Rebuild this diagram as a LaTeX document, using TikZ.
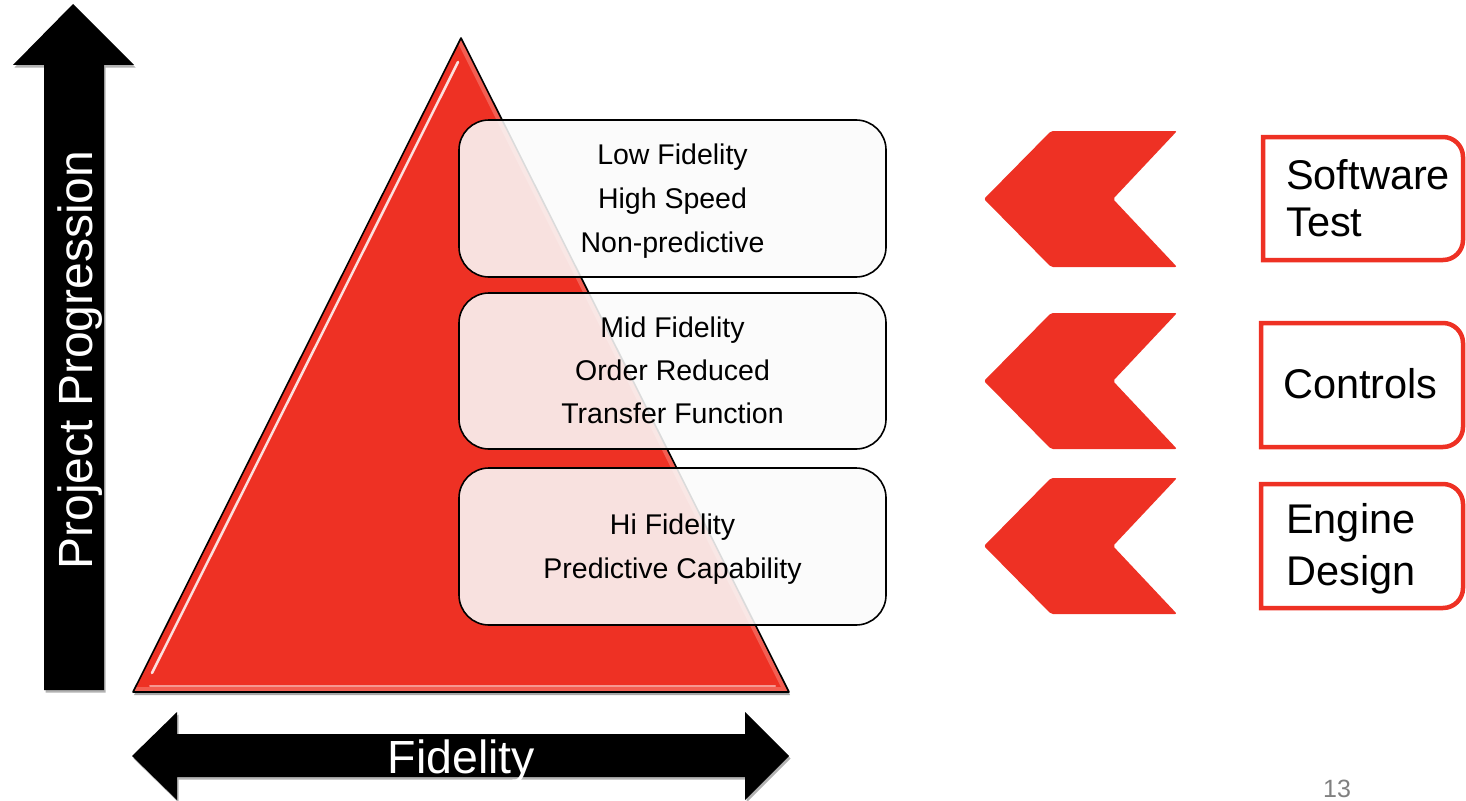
\documentclass[tikz,border=0pt]{standalone}
\usepackage{fontspec}
\setmainfont{Liberation Sans}
\usetikzlibrary{shadows}
\definecolor{brand}{RGB}{238,49,36}
\definecolor{brandlight}{RGB}{250,150,140}
\definecolor{pagenum}{RGB}{128,128,128}
\begin{document}
\begin{tikzpicture}[x=1pt,y=-1pt,
  bigarrow/.style={fill=black,
    drop shadow={shadow xshift=1.5pt,shadow yshift=-2.5pt,opacity=.3,fill=black}},
  arrowlabel/.style={text=white,inner sep=0pt},
  levelbox/.style={draw=black,line width=1.6pt,rounded corners=30pt,
    fill=black!2,fill opacity=.88},
  leveltext/.style={inner sep=0pt,anchor=base,font=\fontsize{28.5}{34}\selectfont},
  chevron/.style={fill=brand,rounded corners=2pt},
  rolebox/.style={draw=brand,fill=white,line width=4.5pt,line join=miter},
  roletext/.style={inner sep=0pt,anchor=base west,font=\fontsize{41.5}{48}\selectfont}]
\useasboundingbox (0,0) rectangle (1466,800);

% vertical axis arrow
\fill[bigarrow] (44,690) -- (44,65) -- (13,65) -- (73,4) -- (134,65)
  -- (104,65) -- (104,690) -- cycle;
\node[arrowlabel,rotate=90,anchor=base,font=\fontsize{48}{50}\selectfont]
  (progress) at (92,360) {Project Progression};

% horizontal axis double arrow
\fill[bigarrow] (132,756) -- (177,712) -- (177,734) -- (745,734) -- (745,712)
  -- (789,756) -- (745,800) -- (745,777) -- (177,777) -- (177,800) -- cycle;
\node[arrowlabel,anchor=base,font=\fontsize{46.5}{50}\selectfont]
  (fidelity) at (461.5,773) {Fidelity};

% glossy pyramid
\fill[brand,drop shadow={shadow xshift=1pt,shadow yshift=-3pt,opacity=.35,fill=black}]
  (461,38) -- (789,692) -- (133,692) -- cycle;
\begin{scope}
  \clip (461,38) -- (789,692) -- (133,692) -- cycle;
  \draw[brandlight,line width=10pt,opacity=.45] (461,38) -- (789,692) -- (133,692);
  \draw[white,line width=2.5pt,opacity=.85,line cap=round] (458,62) -- (152,673);
  \draw[white,line width=2pt,opacity=.5,line cap=round] (150,686) -- (775,686);
\end{scope}
\draw[black,line width=1.6pt,line join=round] (461,38) -- (789,692) -- (133,692) -- cycle;

% fidelity levels
\draw[levelbox] (459,120) rectangle (886,277);
\draw[levelbox] (459,293) rectangle (886,449);
\draw[levelbox] (459,468) rectangle (886,625);

\node[leveltext] (low1) at (672.5,164) {Low Fidelity};
\node[leveltext] (low2) at (672.5,208) {High Speed};
\node[leveltext] (low3) at (672.5,252) {Non-predictive};
\node[leveltext] (mid1) at (672.5,337) {Mid Fidelity};
\node[leveltext] (mid2) at (672.5,380) {Order Reduced};
\node[leveltext] (mid3) at (672.5,423) {Transfer Function};
\node[leveltext] (hi1) at (672.5,534) {Hi Fidelity};
\node[leveltext] (hi2) at (672.5,578) {Predictive Capability};

% chevrons pointing at the levels
\foreach \dy in {0,182,347} {
  \fill[chevron] (984,199+\dy) -- (1051,131+\dy) -- (1177,131+\dy)
    -- (1113,199+\dy) -- (1177,267+\dy) -- (1051,267+\dy) -- cycle;
}

% user groups: square on the left, rounded on the right
\draw[rolebox] (1263,137) -- (1443,137) arc[start angle=-90,end angle=0,radius=20]
  -- (1463,240) arc[start angle=0,end angle=90,radius=20] -- (1263,260) -- cycle;
\draw[rolebox] (1261,323) -- (1443,323) arc[start angle=-90,end angle=0,radius=20]
  -- (1463,427) arc[start angle=0,end angle=90,radius=20] -- (1261,447) -- cycle;
\draw[rolebox] (1261,484) -- (1443,484) arc[start angle=-90,end angle=0,radius=20]
  -- (1463,588) arc[start angle=0,end angle=90,radius=20] -- (1261,608) -- cycle;

\node[roletext] (sw1) at (1286,189) {Software};
\node[roletext] (sw2) at (1286,236) {Test};
\node[roletext] (ctl) at (1283,398) {Controls};
\node[roletext] (eng1) at (1286,533) {Engine};
\node[roletext] (eng2) at (1286,585) {Design};

% page number
\node[inner sep=0pt,anchor=base,text=pagenum,font=\fontsize{25}{28}\selectfont]
  (page) at (1337,797) {13};
\end{tikzpicture}
\end{document}
